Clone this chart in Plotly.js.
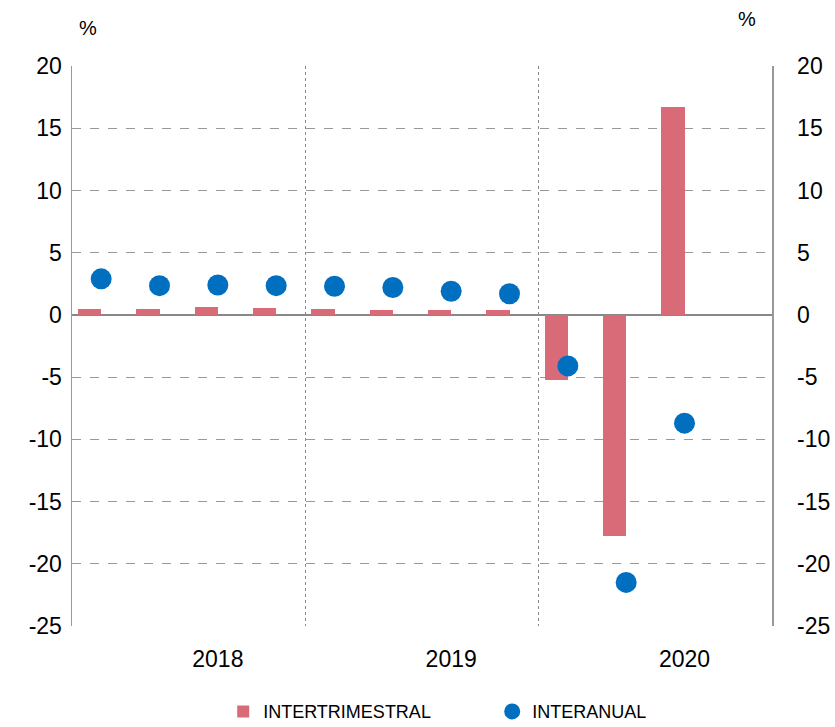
<!DOCTYPE html>
<html>
<head>
<meta charset="utf-8">
<script src="https://cdn.plot.ly/plotly-3.0.1.min.js"></script>
<style>
html,body{margin:0;padding:0;background:#fff;}
#chart{width:835px;height:727px;}
</style>
</head>
<body>
<div id="chart"></div>
<script>
// Quarters 2018Q1 .. 2020Q3
var quarters = ["2018T1","2018T2","2018T3","2018T4","2019T1","2019T2","2019T3","2019T4","2020T1","2020T2","2020T3"];
var intertrimestral = [0.5, 0.5, 0.6, 0.55, 0.5, 0.4, 0.4, 0.4, -5.2, -17.8, 16.7];
var interanual = [2.9, 2.35, 2.4, 2.35, 2.3, 2.2, 1.9, 1.7, -4.1, -21.5, -8.7];
var years = ["2018", "2019", "2020"];
var yearLabelPos = [2.5, 6.5, 10.5];
var yearBounds = [4, 8];
var yTickVals = [-25, -20, -15, -10, -5, 0, 5, 10, 15, 20];
var yTickText = ["-25", "-20", "-15", "-10", "-5", "0", "5", "10", "15", "20"];

var qIndex = quarters.map(function(q, i){ return i; });
var dotX = qIndex.map(function(i){ return i + 0.5; });
var barX = qIndex.map(function(i){ return i + 0.3; });

var font = "Liberation Sans, Arial, Helvetica, sans-serif";

var traces = [
  {
    type: "bar",
    name: "INTERTRIMESTRAL",
    x: barX,
    y: intertrimestral,
    width: 0.4,
    marker: {color: "#d96b78"},
    hoverinfo: "y"
  },
  {
    type: "scatter",
    mode: "markers",
    name: "INTERANUAL",
    x: dotX,
    y: interanual,
    marker: {color: "#006fc0", size: 21},
    hoverinfo: "y"
  },
  {
    type: "scatter",
    mode: "markers",
    x: [0],
    y: [0],
    yaxis: "y2",
    showlegend: false,
    marker: {opacity: 0},
    hoverinfo: "skip"
  }
];

var yCommon = {
  range: [-25, 20],
  tickvals: yTickVals,
  ticktext: yTickText,
  tickfont: {family: font, size: 23, color: "#000"},
  ticks: "",
  showline: true,
  linecolor: "#999",
  linewidth: 1.5,
  fixedrange: true
};

var layout = {
  width: 835,
  height: 727,
  margin: {l: 72, r: 63, t: 66, b: 101, autoexpand: false},
  paper_bgcolor: "#fff",
  plot_bgcolor: "#fff",
  bargap: 0,
  showlegend: true,
  legend: {
    orientation: "h",
    x: 0.216,
    xanchor: "left",
    y: -0.12,
    yanchor: "top",
    font: {family: font, size: 18, color: "#000"},
    itemwidth: 30,
    entrywidth: 224,
    tracegroupgap: 0,
    traceorder: "normal"
  },
  xaxis: {
    range: [0, 12],
    tickvals: yearLabelPos,
    ticktext: years,
    tickfont: {family: font, size: 23, color: "#000"},
    ticks: "",
    ticklabelstandoff: 17,
    showgrid: false,
    zeroline: false,
    showline: false,
    minor: {
      tickvals: yearBounds,
      showgrid: true,
      gridcolor: "#888",
      griddash: "dot",
      gridwidth: 1.5,
      ticks: ""
    },
    fixedrange: true
  },
  yaxis: Object.assign({}, yCommon, {
    side: "left",
    showgrid: true,
    gridcolor: "#999",
    griddash: "dash",
    gridwidth: 1,
    zeroline: true,
    zerolinecolor: "#888",
    zerolinewidth: 1.5,
    ticklabelstandoff: 4
  }),
  yaxis2: Object.assign({}, yCommon, {
    side: "right",
    overlaying: "y",
    showgrid: false,
    zeroline: false,
    ticklabelstandoff: 19
  }),
  annotations: [
    {text: "%", xref: "paper", yref: "paper", x: 0.0, y: 1.0, xshift: 16, yshift: 38,
     showarrow: false, font: {family: font, size: 20, color: "#000"}, xanchor: "center", yanchor: "middle"},
    {text: "%", xref: "paper", yref: "paper", x: 1.0, y: 1.0, xshift: -25, yshift: 47,
     showarrow: false, font: {family: font, size: 20, color: "#000"}, xanchor: "center", yanchor: "middle"}
  ]
};

Plotly.newPlot("chart", traces, layout, {displayModeBar: false, staticPlot: true});
</script>
</body>
</html>
